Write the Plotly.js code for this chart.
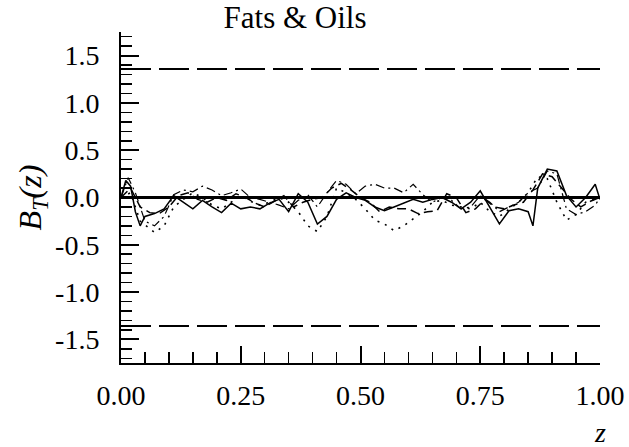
<!DOCTYPE html>
<html>
<head>
<meta charset="utf-8">
<script src="https://cdn.plot.ly/plotly-3.0.1.min.js"></script>
<style>html,body{margin:0;padding:0;background:#fff;}#chart{width:629px;height:447px;}</style>
</head>
<body>
<div id="chart"></div>
<script>
// ---- data ----
var zSolid = [0, 0.01, 0.02, 0.03, 0.04, 0.05, 0.07, 0.09, 0.11, 0.13, 0.15, 0.17, 0.19, 0.21, 0.23, 0.25, 0.27, 0.29, 0.31, 0.33, 0.35, 0.37, 0.39, 0.41, 0.43, 0.45, 0.47, 0.49, 0.51, 0.53, 0.55, 0.57, 0.59, 0.61, 0.63, 0.65, 0.67, 0.69, 0.71, 0.73, 0.75, 0.77, 0.79, 0.81, 0.83, 0.85, 0.86, 0.87, 0.89, 0.91, 0.93, 0.95, 0.97, 0.99, 1.0];
var bSolid = [0, 0.18, 0.12, -0.15, -0.3, -0.2, -0.17, -0.12, 0.02, -0.05, -0.12, -0.03, -0.1, -0.16, -0.06, -0.12, -0.1, -0.12, -0.06, -0.02, -0.15, 0.04, -0.05, -0.28, -0.2, -0.02, 0.05, 0.0, -0.03, -0.1, -0.14, -0.1, -0.06, -0.02, -0.05, -0.02, 0.0, -0.05, -0.12, -0.05, 0.07, -0.1, -0.28, -0.14, -0.12, -0.15, -0.3, 0.1, 0.3, 0.28, 0.02, -0.1, 0.0, 0.14, -0.02];

var zDashDot = [0, 0.015, 0.03, 0.05, 0.07, 0.09, 0.11, 0.13, 0.15, 0.17, 0.19, 0.21, 0.23, 0.25, 0.27, 0.29, 0.31, 0.33, 0.35, 0.37, 0.39, 0.41, 0.43, 0.45, 0.47, 0.49, 0.51, 0.53, 0.55, 0.57, 0.59, 0.61, 0.63, 0.65, 0.67, 0.69, 0.71, 0.73, 0.75, 0.77, 0.79, 0.81, 0.83, 0.85, 0.87, 0.89, 0.91, 0.93, 0.95, 0.97, 0.99, 1.0];
var bDashDot = [0, 0.21, 0.05, -0.25, -0.3, -0.2, 0.03, 0.08, 0.06, 0.12, 0.08, 0.02, 0.05, 0.09, 0.0, -0.02, -0.05, -0.08, -0.12, -0.03, 0.03, -0.1, 0.05, 0.18, 0.14, 0.04, 0.12, 0.14, 0.1, 0.1, 0.05, 0.14, 0.03, -0.05, 0.0, -0.03, -0.12, -0.1, 0.02, -0.05, -0.15, -0.1, -0.05, 0.05, 0.1, 0.28, 0.25, -0.12, -0.18, -0.15, -0.08, 0];

var zDotted = [0, 0.02, 0.04, 0.06, 0.07, 0.09, 0.11, 0.13, 0.15, 0.17, 0.19, 0.21, 0.23, 0.25, 0.27, 0.29, 0.31, 0.33, 0.35, 0.37, 0.39, 0.41, 0.43, 0.45, 0.47, 0.49, 0.51, 0.53, 0.55, 0.57, 0.59, 0.61, 0.63, 0.65, 0.67, 0.69, 0.71, 0.73, 0.75, 0.77, 0.79, 0.81, 0.83, 0.85, 0.87, 0.89, 0.91, 0.93, 0.95, 0.97, 1.0];
var bDotted = [0, 0.05, -0.25, -0.33, -0.37, -0.3, -0.1, -0.02, 0.05, 0.0, -0.08, -0.12, -0.05, 0.02, -0.04, -0.08, -0.05, 0.0, -0.05, -0.15, -0.3, -0.36, -0.2, 0.1, 0.05, -0.02, -0.12, -0.24, -0.28, -0.35, -0.3, -0.22, -0.15, -0.05, -0.03, -0.08, -0.1, -0.12, -0.05, -0.15, -0.2, -0.12, -0.05, 0.05, 0.22, 0.2, -0.05, -0.24, -0.18, -0.05, 0];

var zDashed = [0, 0.02, 0.04, 0.06, 0.08, 0.1, 0.12, 0.14, 0.16, 0.18, 0.2, 0.22, 0.24, 0.26, 0.28, 0.3, 0.32, 0.34, 0.36, 0.38, 0.4, 0.42, 0.44, 0.46, 0.48, 0.5, 0.52, 0.54, 0.56, 0.58, 0.6, 0.62, 0.64, 0.66, 0.68, 0.7, 0.72, 0.74, 0.76, 0.78, 0.8, 0.82, 0.84, 0.86, 0.88, 0.9, 0.92, 0.94, 0.96, 0.98, 1.0];
var bDashed = [0, 0.1, -0.1, -0.16, -0.17, -0.1, 0.02, 0.05, -0.02, -0.05, 0.0, -0.03, 0.04, 0.0, -0.06, -0.1, -0.04, 0.02, -0.1, -0.05, -0.02, 0.0, 0.1, 0.15, 0.08, 0.0, -0.05, -0.15, -0.1, -0.12, -0.12, -0.17, -0.15, -0.14, 0.04, 0.0, -0.16, -0.12, -0.02, -0.1, -0.12, -0.08, -0.05, 0.08, 0.25, 0.22, 0.1, -0.02, -0.1, -0.04, 0];

var boundZ = [0, 1];
var boundUpper = [1.36, 1.36];
var boundLower = [-1.36, -1.36];

var xTickVals = [0, 0.25, 0.5, 0.75, 1.0];
var xTickText = ["0.00", "0.25", "0.50", "0.75", "1.00"];
var yTickVals = [-1.5, -1.0, -0.5, 0.0, 0.5, 1.0, 1.5];
var yTickText = ["-1.5", "-1.0", "-0.5", "0.0", "0.5", "1.0", "1.5"];

var serif = "Liberation Serif";

var traces = [
  {x: boundZ, y: boundUpper, mode: "lines", line: {color: "#000", width: 2, dash: "30px,8px"}, hoverinfo: "skip"},
  {x: boundZ, y: boundLower, mode: "lines", line: {color: "#000", width: 2, dash: "30px,8px"}, hoverinfo: "skip"},
  {x: zDotted, y: bDotted, mode: "lines", line: {color: "#000", width: 1.6, dash: "2px,6px"}},
  {x: zDashed, y: bDashed, mode: "lines", line: {color: "#000", width: 1.5, dash: "9px,5px"}},
  {x: zDashDot, y: bDashDot, mode: "lines", line: {color: "#000", width: 1.2, dash: "9px,4px,2px,4px"}},
  {x: zSolid, y: bSolid, mode: "lines", line: {color: "#000", width: 1.5}}
];

var layout = {
  width: 629, height: 447,
  margin: {l: 121, r: 29, t: 32, b: 84},
  paper_bgcolor: "#fff", plot_bgcolor: "#fff",
  showlegend: false,
  font: {family: serif, color: "#000", size: 28},
  title: {text: "Fats &amp; Oils", font: {family: serif, size: 31, color: "#000"},
          x: 0.469, xref: "container", xanchor: "center", y: 0.962, yref: "container", yanchor: "middle"},
  xaxis: {
    range: [0, 1], showgrid: false, zeroline: false,
    showline: true, linecolor: "#000", linewidth: 2,
    tickmode: "array", tickvals: xTickVals, ticktext: xTickText,
    ticks: "inside", ticklen: 17, tickwidth: 2, tickcolor: "#000",
    minor: {dtick: 0.05, tick0: 0, ticks: "inside", ticklen: 11, tickwidth: 1.5, tickcolor: "#000", showgrid: false},
    tickfont: {family: serif, size: 28, color: "#000"},
    ticklabelstandoff: 6
  },
  yaxis: {
    range: [-1.75, 1.75], showgrid: false,
    zeroline: true, zerolinecolor: "#000", zerolinewidth: 2.5,
    showline: true, linecolor: "#000", linewidth: 2,
    tickmode: "array", tickvals: yTickVals, ticktext: yTickText,
    ticks: "inside", ticklen: 18, tickwidth: 2, tickcolor: "#000",
    minor: {dtick: 0.1, tick0: 0, ticks: "inside", ticklen: 11, tickwidth: 1.5, tickcolor: "#000", showgrid: false},
    tickfont: {family: serif, size: 28, color: "#000"},
    ticklabelstandoff: 14,
    title: {text: "<i>B<sub>T</sub>(z)</i>", font: {family: serif, size: 32, color: "#000"}, standoff: 4}
  },
  annotations: [
    {text: "<i>z</i>", xref: "paper", yref: "paper", x: 1.0, y: -0.21, xanchor: "center", yanchor: "middle",
     showarrow: false, font: {family: serif, size: 28, color: "#000"}}
  ]
};

Plotly.newPlot("chart", traces, layout, {staticPlot: true, displayModeBar: false});
</script>
</body>
</html>
